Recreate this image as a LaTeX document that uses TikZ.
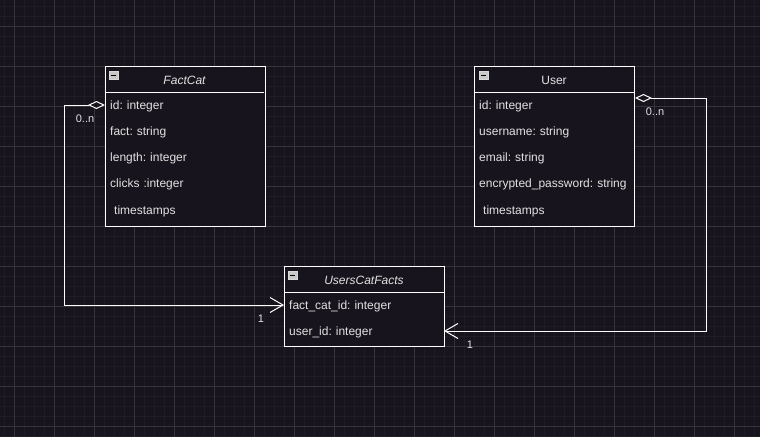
\documentclass[tikz,border=0pt]{standalone}
\usepackage{fontspec}
\setmainfont{Liberation Sans}
\usetikzlibrary{arrows.meta}
\definecolor{bg}{HTML}{18141D}
\definecolor{gridminor}{HTML}{201C25}
\definecolor{gridmajor}{HTML}{36333A}
\definecolor{txt}{HTML}{E2E2E2}
\definecolor{iconfill}{HTML}{C8C8C8}
\tikzset{
  classbox/.style={draw=white, line width=1pt, fill=bg, minimum width=160, anchor=north west, inner sep=0pt},
  title/.style={text=txt, font=\fontsize{12}{14}\selectfont, inner sep=0pt, anchor=center},
  row/.style={anchor=west, text width=150, inner xsep=5, inner ysep=0, align=left, text=txt, font=\fontsize{12}{14}\selectfont\frenchspacing},
  lbl/.style={text=txt, font=\fontsize{11}{13}\selectfont, inner sep=0pt},
  conn/.style={draw=white, line width=1pt},
  iconbox/.style={draw=white!70!gray, fill=iconfill, minimum width=9, minimum height=8, inner sep=0pt, line width=0.5pt},
  aggr/.style={conn, {Diamond[length=17pt,width=8pt,fill=bg,line width=1pt]}-{Straight Barb[length=13pt,width=15pt,line width=1pt]}}
}
\begin{document}
\begin{tikzpicture}[x=1pt,y=-1pt]
\fill[bg] (0,0) rectangle (760,437);
\useasboundingbox (0,0) rectangle (760,437);
% grid
\foreach \x in {4,14,...,754} \draw[gridminor, line width=0.6pt] (\x,0) -- (\x,437);
\foreach \y in {6,16,...,436} \draw[gridminor, line width=0.6pt] (0,\y) -- (760,\y);
\foreach \x in {14,54,...,734} \draw[gridmajor, line width=0.8pt] (\x,0) -- (\x,437);
\foreach \y in {26,66,...,426} \draw[gridmajor, line width=0.8pt] (0,\y) -- (760,\y);

% FactCat
\node[classbox, minimum height=160] (fc) at (105,66) {};
\draw[white, line width=1pt] (105,92) -- (264,92);
\node[title, font=\fontsize{12}{14}\selectfont\itshape] (fct) at (184.5,80.5) {FactCat};
\node[iconbox] (fci) at (113.5,75.5) {};
\draw[black, line width=1pt] (fci.west) ++(2,0) -- ++(5,0);
\node[row] (fcid) at (105,106.5) {id: integer};
\node[row] (fcfact) at (105,132.5) {fact: string};
\node[row] (fclen) at (105,158.5) {length: integer};
\node[row] (fcclk) at (105,184.5) {clicks :integer};
\node[row] (fcts) at (105,211) {\ timestamps};

% User
\node[classbox, minimum height=160] (us) at (474,66) {};
\draw[white, line width=1pt] (474,92) -- (634,92);
\node[title] (ust) at (554,80.5) {User};
\node[iconbox] (usi) at (483.5,75.5) {};
\draw[black, line width=1pt] (usi.west) ++(2,0) -- ++(5,0);
\node[row] (usid) at (474,106.5) {id: integer};
\node[row] (usname) at (474,132.5) {username: string};
\node[row] (usmail) at (474,158.5) {email: string};
\node[row] (uspw) at (474,184.5) {encrypted\_password: string};
\node[row] (usts) at (474,211) {\ timestamps};

% UsersCatFacts
\node[classbox, minimum height=80] (ucf) at (284,266) {};
\draw[white, line width=1pt] (284,292) -- (444,292);
\node[title, font=\fontsize{12}{14}\selectfont\itshape] (ucft) at (364,280.5) {UsersCatFacts};
\node[iconbox] (ucfi) at (292.5,275.5) {};
\draw[black, line width=1pt] (ucfi.west) ++(2,0) -- ++(5,0);
\coordinate (ucfa) at (284,305);
\coordinate (ucfb) at (444,331);
\node[row] (ucfat) at (284,306.5) {fact\_cat\_id: integer};
\node[row] (ucfbt) at (284,332.5) {user\_id: integer};

% connectors
\coordinate (fcA) at (105,105);
\draw[aggr] (fcA) -- ++(-41,0) |- (ucfa);
\draw[aggr] ([yshift=-32pt]us.north east) -- ++(71,0) |- (ucfb);

% labels
\node[lbl] (l1) at (85,119) {0..n};
\node[lbl] (l2) at (261,319) {1};
\node[lbl] (l3) at (655,112) {0..n};
\node[lbl] (l4) at (470,345) {1};
\end{tikzpicture}
\end{document}
